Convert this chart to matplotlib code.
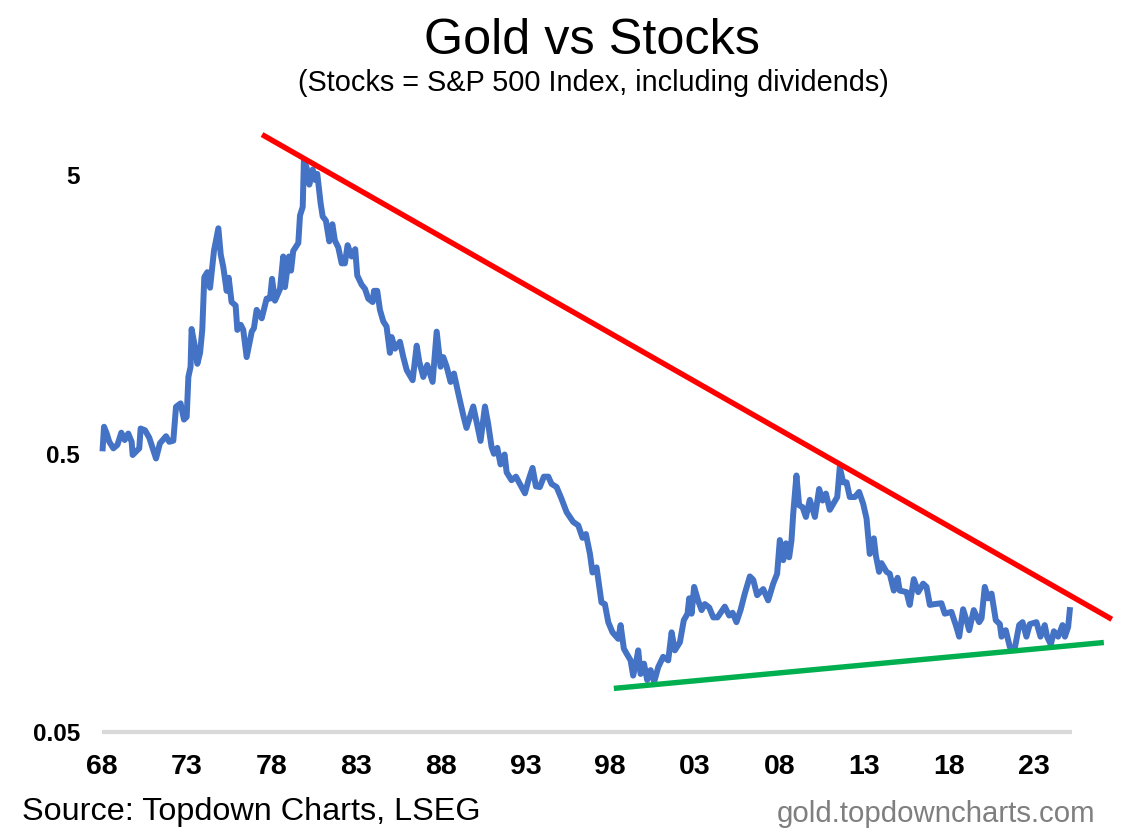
#!/usr/bin/env python3
"""Gold vs Stocks ratio, log scale, with hand drawn trend lines."""
import matplotlib
matplotlib.use("Agg")
import matplotlib.pyplot as plt
from matplotlib.ticker import NullLocator

years = [
    1968.04, 1968.12, 1968.28, 1968.43, 1968.67, 1968.91, 1969.14, 1969.34, 1969.55, 1969.75,
    1969.81, 1970.20, 1970.28, 1970.54, 1970.79, 1971.19, 1971.42, 1971.78, 1971.97, 1972.21,
    1972.37, 1972.64, 1972.84, 1973.00, 1973.10, 1973.23, 1973.29, 1973.49, 1973.63, 1973.79,
    1973.92, 1974.04, 1974.22, 1974.38, 1974.61, 1974.87, 1975.01, 1975.16, 1975.36, 1975.48,
    1975.65, 1975.89, 1975.99, 1976.19, 1976.34, 1976.54, 1976.84, 1976.97, 1977.13, 1977.43,
    1977.72, 1977.92, 1978.04, 1978.21, 1978.51, 1978.70, 1978.80, 1979.04, 1979.16, 1979.29,
    1979.59, 1979.69, 1979.85, 1979.92, 1980.08, 1980.24, 1980.44, 1980.59, 1980.71, 1980.91,
    1981.03, 1981.22, 1981.42, 1981.60, 1981.75, 1981.95, 1982.15, 1982.34, 1982.50, 1982.74,
    1982.95, 1983.07, 1983.33, 1983.53, 1983.72, 1983.98, 1984.06, 1984.25, 1984.41, 1984.61,
    1984.80, 1985.00, 1985.10, 1985.30, 1985.59, 1985.79, 1985.99, 1986.34, 1986.58, 1986.73,
    1986.97, 1987.20, 1987.52, 1987.76, 1987.99, 1988.15, 1988.35, 1988.58, 1988.78, 1989.04,
    1989.33,
    1989.52, 1989.72, 1989.92, 1990.12, 1990.35, 1990.61, 1990.80, 1991.00, 1991.14, 1991.34,
    1991.53, 1991.77, 1991.89, 1992.18, 1992.44, 1992.67, 1992.97, 1993.17, 1993.42, 1993.62,
    1993.85, 1994.09, 1994.35, 1994.54, 1994.84, 1995.13, 1995.43, 1995.82, 1996.12, 1996.37,
    1996.57, 1996.81, 1996.96, 1997.20, 1997.49, 1997.69, 1997.89, 1998.14, 1998.48, 1998.62,
    1998.81, 1998.97, 1999.21, 1999.36, 1999.52, 1999.66, 1999.80, 2000.00, 2000.19, 2000.39,
    2000.60, 2000.84, 2001.13, 2001.43, 2001.63, 2001.82, 2002.12, 2002.35, 2002.57, 2002.67,
    2002.81, 2002.96, 2003.20, 2003.40, 2003.59, 2003.85, 2004.09, 2004.34, 2004.77, 2005.03,
    2005.23, 2005.46, 2005.70, 2005.95, 2006.25, 2006.45,
    2006.68, 2007.04, 2007.33, 2007.63, 2007.86, 2008.02, 2008.22, 2008.38, 2008.57, 2008.71,
    2008.81, 2009.00, 2009.16, 2009.36, 2009.56, 2009.79, 2010.09, 2010.34, 2010.54, 2010.74,
    2010.97, 2011.41, 2011.56, 2011.76, 2011.96, 2012.15, 2012.45, 2012.70, 2012.94, 2013.14,
    2013.33, 2013.57, 2013.69, 2013.88, 2014.02, 2014.32, 2014.51, 2014.75, 2014.97, 2015.10,
    2015.50, 2015.69, 2015.93, 2016.19, 2016.48, 2016.68, 2016.88, 2017.17, 2017.56, 2017.76,
    2018.15, 2018.41, 2018.61, 2018.84, 2019.04, 2019.20, 2019.47, 2019.79, 2019.93, 2020.12,
    2020.32, 2020.52, 2020.77, 2021.01, 2021.11, 2021.36, 2021.60, 2021.89, 2022.15, 2022.35,
    2022.58, 2022.78, 2023.17, 2023.41, 2023.66, 2023.80, 2024.02, 2024.20, 2024.45, 2024.71,
    2024.85, 2025.04, 2025.14,
]
ratio = [
    0.522, 0.624, 0.590, 0.551, 0.522, 0.537, 0.594, 0.559, 0.590, 0.551,
    0.494, 0.522, 0.615, 0.606, 0.570, 0.480, 0.544, 0.577, 0.551, 0.556,
    0.736, 0.757, 0.662, 0.677, 0.942, 1.025, 1.40, 1.206, 1.05, 1.15,
    1.39, 2.15, 2.24, 1.97, 2.67, 3.22, 2.59, 2.34, 1.92, 2.14,
    1.75, 1.70, 1.39, 1.45, 1.39, 1.11, 1.37, 1.41, 1.64, 1.53,
    1.80, 1.80, 2.12, 1.77, 1.95, 2.55, 1.98, 2.55, 2.27, 2.67,
    2.85, 3.58, 3.84, 5.64, 5.32, 4.62, 5.24, 4.80, 5.05, 3.95,
    3.55, 3.43, 2.89, 3.33, 2.91, 2.75, 2.41, 2.41, 2.80, 2.55,
    2.71, 2.18, 2.02, 1.95, 1.80, 1.75, 1.92, 1.92, 1.64, 1.49,
    1.43, 1.15, 1.31, 1.19, 1.26, 1.11, 0.997, 0.917, 1.22, 1.07,
    0.942, 1.04, 0.904, 1.37, 1.025, 1.11, 1.025, 0.904, 0.969, 0.820,
    0.686,
    0.618, 0.676, 0.738, 0.648, 0.555, 0.738, 0.639, 0.528, 0.499, 0.524,
    0.457, 0.496, 0.428, 0.401, 0.413, 0.389, 0.360, 0.399, 0.444, 0.381,
    0.379, 0.413, 0.413, 0.389, 0.379, 0.344, 0.308, 0.284, 0.276, 0.249,
    0.257, 0.218, 0.187, 0.195, 0.146, 0.144, 0.124, 0.114, 0.108, 0.121,
    0.0996, 0.0957, 0.0904, 0.0797, 0.0880, 0.0982, 0.0808, 0.0880, 0.0768, 0.0834,
    0.0757, 0.0855, 0.0931, 0.0904, 0.114, 0.0982, 0.105, 0.126, 0.133, 0.151,
    0.133, 0.166, 0.148, 0.137, 0.144, 0.140, 0.129, 0.129, 0.141, 0.131,
    0.134, 0.124, 0.137, 0.157, 0.181, 0.176,
    0.155, 0.163, 0.1485, 0.1705, 0.185, 0.2445, 0.207, 0.238, 0.212, 0.2445,
    0.304, 0.417, 0.326, 0.321, 0.296, 0.341, 0.296, 0.373, 0.339, 0.359,
    0.314, 0.349, 0.447, 0.394, 0.394, 0.349, 0.349, 0.364, 0.330, 0.292,
    0.218, 0.248, 0.215, 0.188, 0.202, 0.188, 0.185, 0.161, 0.179, 0.161,
    0.159, 0.143, 0.177, 0.159, 0.1705, 0.166, 0.143, 0.144, 0.145, 0.133,
    0.135, 0.121, 0.110, 0.138, 0.126, 0.116, 0.137, 0.124, 0.128, 0.166,
    0.151, 0.157, 0.126, 0.122, 0.110, 0.116, 0.101, 0.0998, 0.121, 0.124,
    0.110, 0.122, 0.124, 0.110, 0.121, 0.110, 0.103, 0.115, 0.110, 0.121,
    0.110, 0.119, 0.137,
]

# trend lines, end points only
red_x = [1977.45, 2027.62]
red_y = [6.99, 0.127]
green_x = [1998.22, 2027.15]
green_y = [0.0717, 0.1048]

x_ticks = [1968, 1973, 1978, 1983, 1988, 1993, 1998, 2003, 2008, 2013, 2018, 2023]
x_labels = ["68", "73", "78", "83", "88", "93", "98", "03", "08", "13", "18", "23"]
y_ticks = [5, 0.5, 0.05]
y_labels = ["5", "0.5", "0.05"]

W, H = 1137, 830
plt.rcParams["font.family"] = ["Liberation Sans", "DejaVu Sans"]

fig = plt.figure(figsize=(W / 100, H / 100), dpi=100)
# axes box placed in pixels: left 102, right 1072, bottom 732, top 104
ax = fig.add_axes([102 / W, (H - 732) / H, (1072 - 102) / W, (732 - 104) / H])
ax.set_yscale("log")
ax.set_xlim(1968, 2025.27)
ax.set_ylim(0.05, 9)

ax.plot(years, ratio, color="#4472C4", lw=4.3, solid_joinstyle="round", clip_on=False, zorder=2)
ax.plot(red_x, red_y, color="#FF0000", lw=3.9, solid_capstyle="butt", clip_on=False, zorder=3)
ax.plot(green_x, green_y, color="#00B050", lw=3.9, solid_capstyle="butt", clip_on=False, zorder=3)

for side in ["top", "right", "left"]:
    ax.spines[side].set_visible(False)
ax.spines["bottom"].set_color("#D9D9D9")
ax.spines["bottom"].set_linewidth(3)
ax.spines["bottom"].set_capstyle("butt")

ax.yaxis.set_minor_locator(NullLocator())
ax.set_xticks(x_ticks)
ax.set_xticklabels(x_labels, fontsize=20.5, fontweight="bold")
ax.set_yticks(y_ticks)
ax.set_yticklabels(y_labels, fontsize=17.5, fontweight="bold")
ax.tick_params(axis="x", length=0, pad=16)
ax.tick_params(axis="y", length=0, pad=16)

fig.text(592 / W, 1 - 41 / H, "Gold vs Stocks", fontsize=36.3, ha="center", va="center")
fig.text(593 / W, 1 - 83 / H, "(Stocks = S&P 500 Index, including dividends)",
         fontsize=20.8, ha="center", va="center")
fig.text(22 / W, 1 - 812 / H, "Source: Topdown Charts, LSEG", fontsize=23.3, ha="left", va="center")
fig.text(1095 / W, 1 - 814 / H, "gold.topdowncharts.com", fontsize=21.2, color="#7F7F7F",
         ha="right", va="center")

fig.savefig("out.png", dpi=100)
plt.close(fig)
